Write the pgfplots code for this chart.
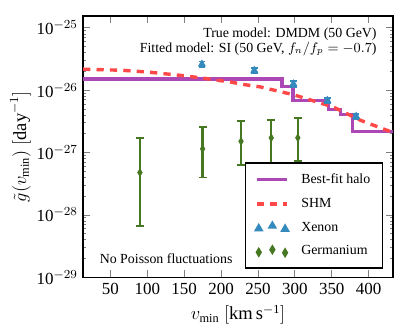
\documentclass[border=0pt]{standalone}
\usepackage{pgfplots}
\pgfplotsset{compat=1.18}
\usepackage{fontspec}
\setmainfont{Liberation Serif}

\definecolor{halo}{RGB}{172,72,182}
\definecolor{shm}{RGB}{255,72,72}
\definecolor{xenon}{RGB}{52,138,189}
\definecolor{germ}{RGB}{70,120,33}

\pgfplotsset{
    lineleg/.style={legend image code/.code={\draw (0cm,0cm) -- (0.7cm,0cm);}},
    markleg/.style={legend image code/.code={
        \draw plot[only marks] coordinates {(0.05cm,-0.02cm) (0.36cm,0.04cm) (0.65cm,-0.03cm)};}},
}

\begin{document}
\begin{tikzpicture}
\begin{axis}[
    scale only axis,
    width=201pt, height=169.5pt,
    ymode=log,
    xmin=13, xmax=433,
    ymin=1e-29, ymax=1.55e-25,
    xtick={50,100,...,400},
    xticklabels={50,100,150,200,250,300,350,400},
    ytick={1e-29,1e-28,1e-27,1e-26,1e-25},
    minor ytick={2e-29,3e-29,4e-29,5e-29,6e-29,7e-29,8e-29,9e-29,
                 2e-28,3e-28,4e-28,5e-28,6e-28,7e-28,8e-28,9e-28,
                 2e-27,3e-27,4e-27,5e-27,6e-27,7e-27,8e-27,9e-27,
                 2e-26,3e-26,4e-26,5e-26,6e-26,7e-26,8e-26,9e-26},
    yticklabels={10$^{-29}$,10$^{-28}$,10$^{-27}$,10$^{-26}$,10$^{-25}$},
    tick label style={font=\fontsize{11}{13}\selectfont},
    tick align=inside,
    major tick length=4.5pt,
    minor tick length=2pt,
    tick style={line width=0.6pt},
    axis line style={line width=1pt},
    xlabel={$v_{\rm min}$ $[\mathrm{km\,s^{-1}}]$},
    ylabel={$\tilde{g}(v_{\rm min})$ $[\mathrm{day}^{-1}]$},
    ylabel shift=-3pt,
    label style={font=\fontsize{12}{14}\selectfont},
    legend cell align=left,
    legend style={at={(0.969,0.033)}, anchor=south east, draw=black,
        line width=1pt, fill=white, font=\fontsize{9}{10}\selectfont,
        row sep=4pt, inner xsep=6pt, inner ysep=5pt,
        /tikz/every odd column/.append style={column sep=6pt}},
]

% best-fit halo (step function)
\addplot[halo, line width=2.2pt, const plot, lineleg] coordinates {
    (13,1.52e-26) (282.5,1.15e-26) (297.6,6.8e-27) (345.9,4.95e-27)
    (362,4.07e-27) (377.8,2.2e-27) (433,2.2e-27)
};
\addlegendentry{Best-fit halo}

% SHM
\addplot[shm, line width=2.2pt, dash pattern=on 4.7pt off 4pt, lineleg] coordinates {
    (13,2.18e-26) (20,2.17e-26) (67,2.09e-26) (103,1.95e-26) (148,1.72e-26)
    (175,1.57e-26) (189,1.48e-26) (211,1.37e-26) (230,1.24e-26) (252,1.14e-26)
    (298,8.5e-27) (352,5.4e-27) (389,3.3e-27) (433,2.1e-27)
};
\addlegendentry{SHM}

% Xenon
\addplot[xenon, only marks, mark=triangle*, mark size=2.6pt, markleg,
    error bars/.cd, y dir=both, y explicit,
    error bar style={line width=1.2pt, xenon},
    error mark options={rotate=90, line width=1.2pt, mark size=2.2pt, xenon}]
    coordinates {
    (174,2.63e-26) +- (0,2.6e-27)
    (245,2.09e-26) +- (0,2.1e-27)
    (298,1.27e-26) +- (0,1.3e-27)
    (344,6.9e-27) +- (0,7e-28)
    (383,3.83e-27) +- (0,4e-28)
};
\addlegendentry{Xenon}

% Germanium
\addplot[germ, only marks, mark=diamond*, mark size=2.5pt,
    mark options={xscale=0.8}, markleg,
    error bars/.cd, y dir=both, y explicit,
    error bar style={line width=1.5pt, germ},
    error mark options={rotate=90, line width=1.2pt, mark size=2.6pt, germ}]
    coordinates {
    (90,4.8e-28) += (0,1.22e-27) -= (0,4.14e-28)
    (175,1.15e-27) += (0,1.43e-27) -= (0,7.5e-28)
    (227,1.52e-27) += (0,1.65e-27) -= (0,8.9e-28)
    (268,1.73e-27) += (0,1.57e-27) -= (0,1.05e-27)
    (304,1.73e-27) += (0,1.87e-27) -= (0,1.0e-27)
};
\addlegendentry{Germanium}

\node[anchor=east, font=\fontsize{9}{10}\selectfont, inner sep=0pt]
    at (rel axis cs:0.948,0.931) {True model: DMDM (50 GeV)};
\node[anchor=east, font=\fontsize{9}{10}\selectfont, inner sep=0pt]
    at (rel axis cs:0.948,0.874) {Fitted model: SI (50 GeV, $f_n/f_p=-0.7$)};
\node[anchor=west, font=\fontsize{9}{10}\selectfont, inner sep=0pt]
    at (rel axis cs:0.053,0.072) {No Poisson fluctuations};
\end{axis}
\pgfresetboundingbox
\path ([xshift=-53.9pt,yshift=-35pt]current axis.south west)
    rectangle ([xshift=2.6pt,yshift=10.4pt]current axis.north east);
\end{tikzpicture}
\end{document}
